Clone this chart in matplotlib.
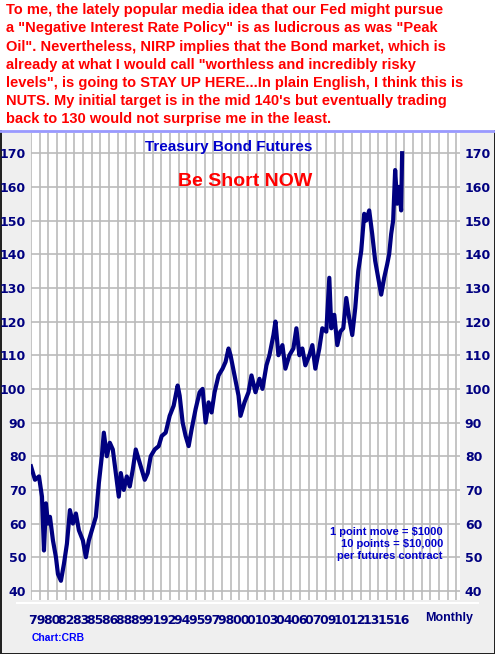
import matplotlib.pyplot as plt
import numpy as np

years = [1979.0, 1979.4, 1979.8, 1980.1, 1980.3, 1980.5, 1980.7, 1980.9, 1981.2, 1981.5, 1981.7,
         1982.0, 1982.3, 1982.6, 1982.9, 1983.2, 1983.5, 1983.8, 1984.2, 1984.5, 1984.8,
         1985.1, 1985.5, 1985.8, 1986.1, 1986.3, 1986.6, 1986.9, 1987.2, 1987.5, 1987.8,
         1988.0, 1988.3, 1988.6, 1988.9, 1989.2, 1989.5, 1989.8, 1990.1, 1990.4, 1990.7,
         1991.0, 1991.4, 1991.8, 1992.1, 1992.5, 1992.9, 1993.3, 1993.7, 1993.9, 1994.2,
         1994.5, 1994.8, 1995.1, 1995.5, 1995.9, 1996.2, 1996.5, 1996.8, 1997.1, 1997.4,
         1997.8, 1998.2, 1998.5, 1998.8, 1999.0, 1999.4, 1999.8, 2000.0, 2000.4, 2000.8,
         2001.1, 2001.5, 2001.9, 2002.2, 2002.6, 2002.9, 2003.3, 2003.5, 2003.8, 2004.2,
         2004.5, 2004.9, 2005.3, 2005.6, 2005.9, 2006.2, 2006.5, 2006.9, 2007.2, 2007.5,
         2007.9, 2008.2, 2008.6, 2008.9, 2009.1, 2009.4, 2009.7, 2010.0, 2010.3, 2010.6,
         2010.9, 2011.2, 2011.5, 2011.8, 2012.1, 2012.4, 2012.6, 2012.9, 2013.2, 2013.5,
         2013.8, 2014.1, 2014.4, 2014.7, 2014.9, 2015.1, 2015.3, 2015.5, 2015.7, 2015.9,
         2016.1, 2016.2]
prices = [77, 73, 74, 68, 52, 66, 60, 62, 55, 50, 45,
          43, 48, 54, 64, 60, 63, 58, 55, 50, 55,
          58, 62, 72, 80, 87, 80, 84, 82, 75, 68,
          75, 70, 74, 71, 76, 82, 79, 76, 73, 75,
          80, 82, 83, 86, 87, 92, 95, 101, 98, 90,
          86, 83, 88, 94, 99, 100, 90, 96, 93, 99,
          104, 106, 108, 112, 110, 104, 98, 92, 96, 99,
          104, 99, 103, 100, 107, 110, 116, 120, 110, 113,
          106, 110, 112, 118, 110, 112, 107, 110, 113, 106,
          112, 118, 117, 133, 118, 122, 113, 117, 118, 127,
          121, 116, 124, 135, 141, 152, 150, 153, 146, 138,
          133, 128, 133, 137, 140, 146, 150, 165, 155, 160,
          153, 170]

year_labels = ['79', '80', '82', '83', '85', '86', '88', '89', '91', '92', '94', '95', '97',
               '98', '00', '01', '03', '04', '06', '07', '09', '10', '12', '13', '15', '16']

navy = '#000080'
fig = plt.figure(figsize=(4.95, 6.54), dpi=100)
fig.patch.set_facecolor('#efefef')
fig.patch.set_edgecolor('#222222')
fig.patch.set_linewidth(2)

# header text box
fig.patches.append(plt.Rectangle((0, 1 - 130 / 654), 1, 130 / 654, transform=fig.transFigure,
                                 facecolor='white', edgecolor='none'))
fig.text(0.012, 0.995,
         'To me, the lately popular media idea that our Fed might pursue\n'
         'a "Negative Interest Rate Policy" is as ludicrous as was "Peak\n'
         'Oil". Nevertheless, NIRP implies that the Bond market, which is\n'
         'already at what I would call "worthless and incredibly risky\n'
         'levels", is going to STAY UP HERE...In plain English, I think this is\n'
         'NUTS. My initial target is in the mid 140\'s but eventually trading\n'
         'back to 130 would not surprise me in the least.',
         color='#ff0000', fontsize=10.5, fontweight='bold', family='Liberation Sans',
         va='top', ha='left', linespacing=1.38)
fig.add_artist(plt.Line2D([0, 1], [1 - 131 / 654] * 2, color='#9999ff', lw=2))

ax = fig.add_axes([31 / 495, 1 - 600 / 654, 429 / 495, 467 / 654])
ax.plot(years, prices, color=navy, lw=3)
ax.set_xlim(1979, 2022)
ax.set_ylim(37.3, 176)
ax.set_xticks(np.arange(1979, 2022, 0.87), minor=False)
ax.set_yticks(range(40, 171, 10))
ax.grid(True, color='#bbbbbb', lw=1.2)
ax.tick_params(length=0, labelbottom=False, labelleft=True, labelright=True,
               labelsize=9, labelcolor=navy)
for lab in ax.get_yticklabels():
    lab.set_fontweight('bold')
for s in ax.spines.values():
    s.set_visible(False)

ax.text(0.46, 0.985, 'Treasury Bond Futures', transform=ax.transAxes, ha='center', va='top',
        color='#0000cc', fontsize=11, fontweight='bold', family='Liberation Sans')
ax.text(0.5, 0.915, 'Be Short NOW', transform=ax.transAxes, ha='center', va='top',
        color='#ff0000', fontsize=14, fontweight='bold', family='Liberation Sans')
ax.text(0.96, 0.12, '1 point move = $1000\n10 points = $10,000\nper futures contract',
        transform=ax.transAxes, ha='right', va='center', color='#0000cc', fontsize=8,
        fontweight='bold', family='Liberation Sans', linespacing=1.3)

fig.add_artist(plt.Line2D([17 / 495, 478 / 495], [1 - 603 / 654] * 2, color='white', lw=1.5))
for i, lab in enumerate(year_labels):
    fig.text((30 + 7 + i * 14.55) / 495, 1 - 620 / 654, lab, ha='center', va='center',
             color=navy, fontsize=9, fontweight='bold',
             family=['Liberation Sans Narrow', 'DejaVu Sans'])
fig.text(449 / 495, 1 - 618 / 654, 'Monthly', ha='center', va='center', color=navy,
         fontsize=9, fontweight='bold', family='Liberation Sans')
fig.text(32 / 495, 1 - 638 / 654, 'Chart:CRB', ha='left', va='center', color='#0000ff',
         fontsize=7.5, fontweight='bold', family='Liberation Sans')

fig.savefig('out.png', dpi=100, facecolor=fig.get_facecolor(), edgecolor=fig.get_edgecolor())
